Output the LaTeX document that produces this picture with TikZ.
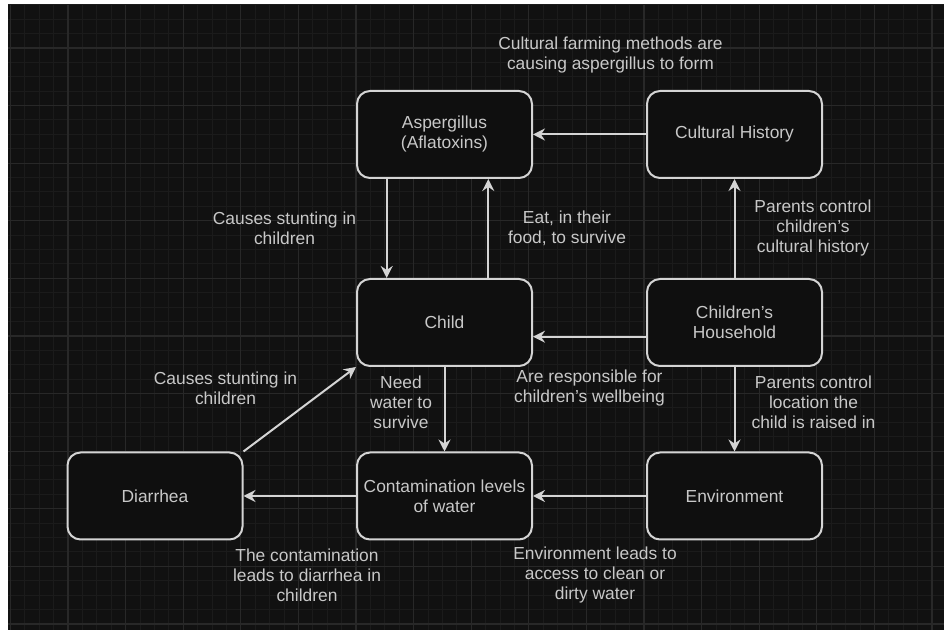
\documentclass[tikz,border=0pt]{standalone}
\usepackage{fontspec}
\setmainfont{Liberation Sans}
\usetikzlibrary{arrows.meta,positioning}
\definecolor{bgdark}{HTML}{111111}
\definecolor{boxdark}{HTML}{0F0F0F}
\definecolor{gridminor}{HTML}{1B1B1B}
\definecolor{gridmajor}{HTML}{282828}
\definecolor{linegray}{HTML}{D4D4D4}
\definecolor{textgray}{HTML}{C8C8C8}
\tikzset{
  box/.style={draw=linegray,fill=boxdark,line width=1pt,rounded corners=6.5pt,
    minimum width=87.5pt,minimum height=43.5pt,align=center,text=textgray,
    font=\fontsize{8.7}{10}\selectfont},
  lbl/.style={align=center,text=textgray,inner sep=0pt,
    font=\fontsize{8.7}{10}\selectfont},
  link/.style={draw=linegray,line width=1pt,
    -{Stealth[length=6pt,width=6pt,inset=2pt]}},
}
\begin{document}
\begin{tikzpicture}[x=0.5pt,y=-0.5pt]
    \fill[white] (0,0) rectangle (944,630);
    \useasboundingbox (0,0) rectangle (944,630);
    % background grid
    \fill[bgdark] (8,5) rectangle (944,630);
    \begin{scope}
    \clip (8,5) rectangle (944,630);
    \foreach \i in {0,...,64} \draw[gridminor,line width=0.5pt] ({10.4+\i*14.4},5)--++(0,625);
    \foreach \i in {0,...,43} \draw[gridminor,line width=0.5pt] (8,{4.8+\i*14.4})--++(936,0);
    \foreach \i in {0,...,16} \draw[gridmajor,line width=0.6pt] ({10.4+\i*57.6},5)--++(0,625);
    \foreach \i in {0,...,10} \draw[gridmajor,line width=0.6pt] (8,{48+\i*57.6})--++(936,0);
    \end{scope}
    % boxes
    \node[box] (asp) at (444.5,134.5) {Aspergillus\\(Aflatoxins)};
    \node[box] (cult) at (734.5,134.5) {Cultural History};
    \node[box] (child) at (444.5,322.5) {Child};
    \node[box] (house) at (734.5,322.5) {Children’s\\Household};
    \node[box] (water) at (444.5,496) {Contamination levels\\of water};
    \node[box] (env) at (734.5,496) {Environment};
    \node[box] (diar) at (155,496) {Diarrhea};
    % connectors
    \draw[link] (cult.west)--(asp.east);
    \draw[link] ([xshift=-28.9pt]asp.south)--([xshift=-28.9pt]child.north);
    \draw[link] ([xshift=21.9pt]child.north)--([xshift=21.9pt]asp.south);
    \draw[link] (house.north)--(cult.south);
    \draw[link] ([yshift=-7.1pt]house.west)--([yshift=-7.1pt]child.east);
    \draw[link] (house.south)--(env.north);
    \draw[link] (child.south)--(water.north);
    \draw[link] (env.west)--(water.east);
    \draw[link] (water.west)--(diar.east);
    \draw[link] (diar.north east)--(child.south west);
    % labels
    \node[lbl] (lfarm) at (610.5,55) {Cultural farming methods are\\causing aspergillus to form};
    \node[lbl] (lstunt) at (284.5,228) {Causes stunting in\\children};
    \node[lbl] (leat) at (567,228) {Eat, in their\\food, to survive};
    \node[lbl] (lcult) at (813,228.5) {Parents control\\children’s\\cultural history};
    \node[lbl] (lstuntb) at (225.5,388) {Causes stunting in\\children};
    \node[lbl] (lneed) at (401,402) {Need\\water to\\survive};
    \node[lbl] (lresp) at (589.5,388) {Are responsible for\\children’s wellbeing};
    \node[lbl] (lloc) at (813.5,402) {Parents control\\location the\\child is raised in};
    \node[lbl] (lcont) at (307,575) {The contamination\\leads to diarrhea in\\children};
    \node[lbl] (lenv) at (595,575) {Environment leads to\\access to clean or\\dirty water};
\end{tikzpicture}
\end{document}
